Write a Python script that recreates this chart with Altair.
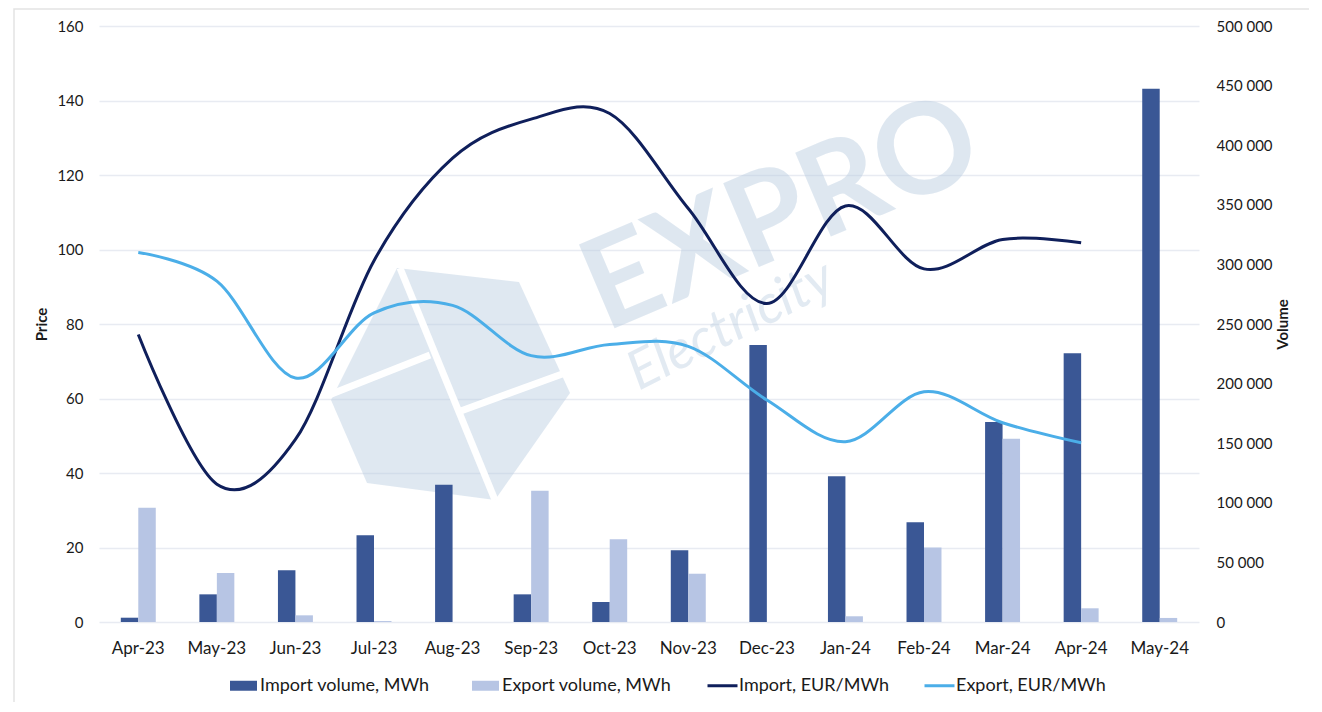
import altair as alt
import pandas as pd

months = ["Apr-23", "May-23", "Jun-23", "Jul-23", "Aug-23", "Sep-23", "Oct-23",
          "Nov-23", "Dec-23", "Jan-24", "Feb-24", "Mar-24", "Apr-24", "May-24"]
import_volume = [3600, 23200, 43400, 72700, 115200, 23200, 16800, 60100,
                 232400, 122200, 83600, 167800, 225500, 447400]
export_volume = [95900, 41100, 5600, 800, 0, 110200, 69400, 40500,
                 0, 4800, 62400, 153800, 11500, 3400]
price_months = months[:13]
import_price = [77.2, 37.0, 49.0, 97.0, 124.5, 135.0, 136.5, 111.0, 85.5, 111.7, 94.8, 102.7, 101.8]
export_price = [99.2, 91.5, 65.5, 83.0, 85.0, 71.5, 74.5, 74.0, 59.6, 48.4, 61.8, 53.5, 48.1]

bar_series = ["Import volume, MWh", "Export volume, MWh"]
line_series = ["Import, EUR/MWh", "Export, EUR/MWh"]

bars_df = pd.DataFrame({
    "month": months * 2,
    "series": [bar_series[0]] * len(months) + [bar_series[1]] * len(months),
    "value": import_volume + export_volume,
})
lines_df = pd.DataFrame({
    "month": price_months * 2,
    "series": [line_series[0]] * len(price_months) + [line_series[1]] * len(price_months),
    "price": import_price + export_price,
})
one = pd.DataFrame({"k": [0]})

FONT = "Lato"
TXT = "#1a1a1a"
x_scale = alt.Scale(domain=months, paddingInner=0.555, paddingOuter=0.2775)

# decorative frame
frame = alt.Chart(one).mark_rect(filled=False, stroke="#e3e3e3", strokeWidth=1.5).encode(
    x=alt.value(-85), x2=alt.value(1214), y=alt.value(-17), y2=alt.value(677)
)

# watermark
wm_color = "#b8cce0"
wm_op = 0.45
logo_path = ("M-0.424,-0.936 L0.552,-0.824 L0.96,0.064 L0.36,0.92 "
             "L-0.664,0.784 L-0.952,0.12 Z")
logo = alt.Chart(one).mark_point(shape=logo_path, size=62500, filled=True,
                                 color=wm_color, opacity=wm_op, strokeWidth=0).encode(
    x=alt.value(351), y=alt.value(359)
)
cut1 = alt.Chart(one).mark_rule(color="white", strokeWidth=7).encode(
    x=alt.value(301), y=alt.value(242), x2=alt.value(396), y2=alt.value(474))
cut2 = alt.Chart(one).mark_rule(color="white", strokeWidth=7).encode(
    x=alt.value(230), y=alt.value(369), x2=alt.value(331), y2=alt.value(329))
cut3 = alt.Chart(one).mark_rule(color="white", strokeWidth=7).encode(
    x=alt.value(359), y=alt.value(386), x2=alt.value(466), y2=alt.value(347))
wm_text = alt.Chart(one).mark_text(text="EXPRO", font=FONT, fontSize=126, fontWeight="bold",
                                   color=wm_color, opacity=wm_op, angle=337, align="center",
                                   baseline="middle").encode(
    x=alt.value(683), y=alt.value(190))
wm_text2 = alt.Chart(one).mark_text(text="Electricity", font=FONT, fontSize=54,
                                    fontStyle="italic", color=wm_color, opacity=0.4,
                                    angle=333, align="center", baseline="middle").encode(
    x=alt.value(632), y=alt.value(300))

bars = alt.Chart(bars_df).mark_bar().encode(
    x=alt.X("month:N", sort=months, scale=x_scale,
            axis=alt.Axis(title=None, labelAngle=0, ticks=False, domain=False,
                          labelPadding=18, labelFontSize=17, labelColor=TXT,
                          labelFont=FONT)),
    xOffset=alt.XOffset("series:N", sort=bar_series,
                        scale=alt.Scale(domain=bar_series, paddingInner=0, paddingOuter=0)),
    y=alt.Y("value:Q", scale=alt.Scale(domain=[0, 500000], nice=False),
            axis=alt.Axis(orient="right", values=list(range(0, 500001, 50000)),
                          labelExpr="replace(format(datum.value, ','), ',', ' ')",
                          title="Volume", titleAngle=270, titleFontWeight="bold",
                          titleFontSize=15, titleFont=FONT, titlePadding=18,
                          titleColor=TXT,
                          grid=False, ticks=False, domain=False, labelPadding=17,
                          labelFontSize=15, labelFont=FONT, labelColor=TXT)),
    fill=alt.Fill("series:N", sort=bar_series,
                  scale=alt.Scale(domain=bar_series, range=["#3A5795", "#B7C5E4"]),
                  legend=alt.Legend(orient="none", legendX=131, legendY=646,
                                    direction="horizontal", title=None,
                                    symbolType="M-1,-0.37H1V0.37H-1Z", symbolSize=729,
                                    symbolStrokeWidth=0, labelFontSize=18, labelFont=FONT,
                                    labelColor=TXT, columnPadding=42, labelOffset=3,
                                    labelLimit=400)),
)

lines = alt.Chart(lines_df).mark_line(interpolate="cardinal", strokeWidth=3).encode(
    x=alt.X("month:N", sort=months, scale=x_scale),
    y=alt.Y("price:Q", scale=alt.Scale(domain=[0, 160], nice=False),
            axis=alt.Axis(orient="left", values=list(range(0, 161, 20)),
                          title="Price", titleFontWeight="bold", titleFontSize=15,
                          titleFont=FONT, titlePadding=7, titleColor=TXT,
                          grid=True, gridColor="#e8ebf2",
                          gridWidth=1.5, ticks=False, domain=False, labelPadding=16,
                          labelFontSize=15, labelFont=FONT, labelColor=TXT)),
    stroke=alt.Stroke("series:N", sort=line_series,
                      scale=alt.Scale(domain=line_series, range=["#0F1F5B", "#4BAEE8"]),
                      legend=alt.Legend(orient="none", legendX=607, legendY=643,
                                        direction="horizontal", title=None,
                                        symbolType="stroke", symbolSize=900,
                                        symbolStrokeWidth=3, labelFontSize=18,
                                        labelFont=FONT, labelColor=TXT,
                                        columnPadding=28, labelOffset=0, labelLimit=400)),
)

data_layer = alt.layer(bars, lines).resolve_scale(y="independent")
deco = alt.layer(frame, logo, cut1, cut2, cut3, wm_text, wm_text2)

chart = alt.layer(deco, data_layer).resolve_scale(y="independent").properties(
    width=1100, height=596,
    autosize=alt.AutoSizeParams(type="none"),
    padding={"left": 91, "top": 18, "right": 110, "bottom": 80},
).configure(font=FONT).configure_view(stroke="transparent", strokeWidth=0).configure_axis(
    domain=False, ticks=False)

chart.save("out.html", embed_options={"renderer": "svg", "actions": False})
